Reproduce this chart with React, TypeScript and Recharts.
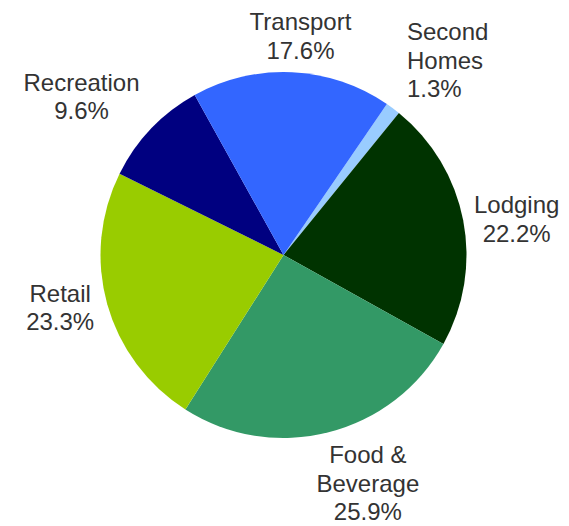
import React from "react";
import { PieChart, Pie, Cell } from "recharts";

const categories = ["Second Homes", "Lodging", "Food & Beverage", "Retail", "Recreation", "Transport"];
const shares = [1.3, 22.2, 25.9, 23.3, 9.6, 17.6];
const colors = ["#99CCFF", "#003300", "#339966", "#99CC00", "#000080", "#3366FF"];

const data = categories.map((name, i) => ({ name, value: shares[i] }));

const RAD = Math.PI / 180;
const FONT = 24;
const LINE = 28.5;

function wrap(name: string): string[] {
  const words = name.split(" ");
  const lines: string[] = [];
  let cur = "";
  for (const w of words) {
    if (cur === "") cur = w;
    else if ((cur + " " + w).length <= 8) cur = cur + " " + w;
    else {
      lines.push(cur);
      cur = w;
    }
  }
  if (cur) lines.push(cur);
  return lines;
}

const clamp = (v: number) => Math.max(-1, Math.min(1, v));
const soft = (u: number) => clamp(Math.sign(u) * Math.max(0, (Math.abs(u) - 0.3) * 2.5));

function renderLabel(props: any) {
  const { cx, cy, midAngle, outerRadius, name, value } = props;
  const lines = [...wrap(name), `${Number(value).toFixed(1)}%`];
  const ux = Math.cos(-midAngle * RAD);
  const uy = Math.sin(-midAngle * RAD);
  const r = outerRadius + 10;
  const px = cx + r * ux;
  const py = cy + r * uy;
  const maxLen = Math.max(...lines.map((l) => l.length));
  const halfW = maxLen * FONT * 0.26;
  const halfH = (lines.length * LINE) / 2 - 2;
  const leftAligned = ux > 0.3 && uy < -0.5;
  const bx = leftAligned ? px + 8 : px + halfW * clamp(3 * ux);
  const by = py + halfH * soft(uy);
  const top = by - ((lines.length - 1) * LINE) / 2;
  return (
    <text
      x={bx}
      y={top}
      fill="#333333"
      fontSize={FONT}
      fontFamily="'Liberation Sans', Arial, sans-serif"
      textAnchor={leftAligned ? "start" : "middle"}
      dominantBaseline="central"
    >
      {lines.map((l, i) => (
        <tspan key={i} x={bx} y={top + i * LINE}>
          {l}
        </tspan>
      ))}
    </text>
  );
}

export default function App() {
  return (
    <div style={{ position: "absolute", left: 0, top: 0 }}>
      <PieChart width={569} height={526} margin={{ top: 0, right: 0, bottom: 0, left: 0 }}>
        <Pie
          data={data}
          dataKey="value"
          nameKey="name"
          cx={283.5}
          cy={255}
          outerRadius={183}
          startAngle={55.6}
          endAngle={-304.4}
          stroke="none"
          label={renderLabel}
          labelLine={false}
          isAnimationActive={false}
        >
          {data.map((d, i) => (
            <Cell key={d.name} fill={colors[i]} />
          ))}
        </Pie>
      </PieChart>
    </div>
  );
}
